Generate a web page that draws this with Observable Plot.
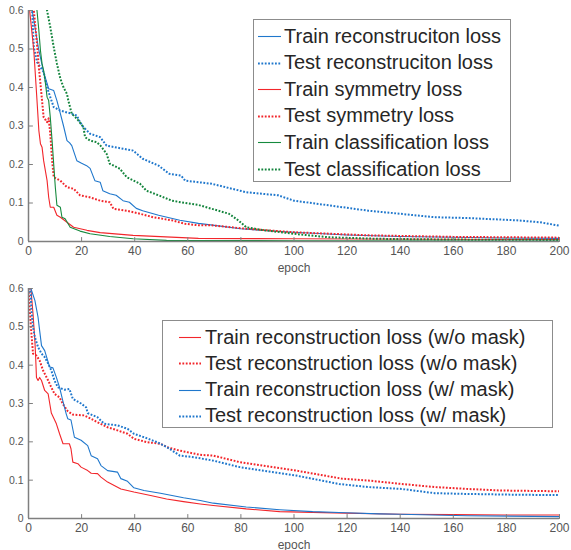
<!DOCTYPE html>
<html><head><meta charset="utf-8">
<script src="https://cdn.jsdelivr.net/npm/d3@7"></script>
<script src="https://cdn.jsdelivr.net/npm/@observablehq/plot@0.6"></script>
<style>
body{margin:0;background:#fff;font-family:"Liberation Sans",Arial,sans-serif;}
#wrap{position:relative;width:571px;height:550px;overflow:hidden;background:#fff}
.fig{position:absolute;left:0}
.legend{position:absolute;background:#fff;border:1px solid #8c8c8c;box-sizing:border-box;font-size:20px;color:#262626;font-family:"Liberation Sans",Arial,sans-serif}
.legend .row{position:absolute;height:26px;display:flex;align-items:center;white-space:nowrap}
.legend svg{display:block}
</style></head><body><div id="wrap"></div>
<script>
// ---------- data ----------
const xTicks = [0,20,40,60,80,100,120,140,160,180,200];
const yTicks = [0,0.1,0.2,0.3,0.4,0.5,0.6];

const topLabels = ["Train reconstruciton loss","Test reconstruciton loss","Train symmetry loss","Test symmetry loss","Train classification loss","Test classification loss"];
const bottomLabels = ["Train reconstruction loss (w/o mask)","Test reconstruction loss (w/o mask)","Train reconstruction loss (w/ mask)","Test reconstruction loss (w/ mask)"];

const topTrainRecon = [[0,0.66],[1.4,0.6],[3.8,0.5],[5.7,0.44],[7.6,0.397],[9.5,0.392],[10.7,0.366],[12,0.332],[13.2,0.3],[14.5,0.262],[15.5,0.256],[16.3,0.249],[18.2,0.21],[20,0.203],[21.9,0.197],[23.2,0.19],[25,0.158],[27,0.154],[28,0.132],[30.6,0.124],[33,0.12],[35.6,0.106],[38,0.102],[40.6,0.086],[43,0.08],[49,0.068],[57,0.055],[64,0.047],[70,0.042],[80,0.033],[90,0.028],[100,0.024],[120,0.017],[140,0.013],[160,0.011],[180,0.009],[200,0.008]];
const topTestRecon = [[0,0.65],[1.4,0.595],[2,0.505],[3.2,0.466],[4.5,0.453],[5.7,0.44],[7,0.4],[8.2,0.375],[9.5,0.349],[12,0.34],[15.7,0.333],[18.2,0.327],[19.4,0.31],[20.7,0.297],[23.2,0.28],[27,0.271],[29.4,0.249],[35.6,0.241],[39.4,0.236],[43,0.215],[49,0.197],[53,0.176],[57.5,0.171],[59,0.158],[64,0.154],[69,0.15],[82,0.128],[94,0.12],[100,0.106],[113,0.094],[128,0.08],[140,0.072],[153,0.063],[165,0.061],[184,0.055],[192.6,0.05],[200,0.041]];
const topTrainSym = [[0,0.65],[0.5,0.595],[2,0.496],[3.2,0.366],[3.9,0.288],[4.5,0.254],[5.1,0.245],[5.7,0.21],[7,0.158],[7.6,0.115],[8.2,0.089],[9.5,0.089],[10.7,0.068],[12,0.063],[14.5,0.05],[17,0.037],[22,0.029],[27,0.023],[39.4,0.016],[64,0.008],[100,0.007],[150,0.006],[200,0.005]];
const topTestSym = [[0,0.65],[2,0.6],[2.6,0.557],[3.2,0.513],[3.9,0.453],[4.5,0.41],[5.1,0.366],[5.7,0.323],[7,0.31],[7.6,0.32],[8.2,0.28],[8.9,0.21],[9.5,0.167],[12,0.158],[14.5,0.141],[17,0.137],[19.4,0.12],[23,0.115],[27,0.106],[30.6,0.102],[32,0.085],[37,0.08],[42,0.072],[47,0.063],[54,0.055],[59,0.046],[64,0.042],[69,0.042],[82,0.033],[100,0.024],[128,0.016],[160,0.012],[200,0.01]];
const topTrainClass = [[0,0.7],[3.2,0.6],[3.9,0.548],[4.5,0.496],[5.1,0.462],[5.7,0.444],[6.4,0.41],[7,0.375],[7.6,0.366],[8.2,0.323],[8.9,0.26],[9.5,0.2],[10.1,0.141],[10.7,0.094],[12,0.089],[12.6,0.063],[13.8,0.059],[15.7,0.037],[19.4,0.027],[23.2,0.02],[30.6,0.013],[39.4,0.007],[52,0.003],[100,0.002],[200,0.001]];
const topTestClass = [[6.5,0.62],[7,0.6],[8.2,0.557],[9.5,0.505],[10.7,0.462],[12,0.423],[13.2,0.4],[14.5,0.383],[15,0.366],[16.3,0.332],[18.2,0.319],[20.7,0.297],[21.3,0.271],[23.2,0.262],[25.7,0.258],[27,0.25],[29.4,0.228],[30.6,0.202],[34.4,0.189],[37,0.167],[42,0.15],[44.4,0.132],[49,0.12],[54,0.106],[59,0.1],[64,0.095],[69,0.085],[75.5,0.072],[79,0.055],[82,0.037],[88,0.03],[100,0.02],[113,0.011],[131.6,0.007],[160,0.005],[200,0.004]];

const botTrainNoMask = [[0,0.68],[0.9,0.6],[1.7,0.534],[2.4,0.464],[2.7,0.42],[3,0.368],[3.6,0.36],[4.2,0.368],[4.9,0.36],[6.1,0.334],[7.4,0.325],[8,0.3],[8.6,0.275],[10.5,0.247],[11.7,0.221],[13,0.195],[15.4,0.195],[16,0.182],[16.7,0.147],[18.6,0.143],[19.8,0.134],[22.3,0.125],[23.6,0.118],[26,0.117],[27.3,0.108],[29.8,0.095],[32.3,0.086],[34.8,0.077],[39.7,0.069],[46,0.06],[52,0.051],[58.4,0.044],[64.7,0.038],[69.6,0.034],[82,0.025],[94.6,0.018],[107,0.016],[119.5,0.014],[140,0.011],[160,0.01],[180,0.009],[200,0.009]];
const botTestNoMask = [[0,0.6],[0.5,0.543],[1.1,0.482],[1.7,0.43],[3,0.425],[4.2,0.412],[5.5,0.386],[7.4,0.36],[8.6,0.342],[9.8,0.325],[11.7,0.316],[13,0.298],[14.8,0.28],[16.7,0.271],[21,0.269],[23.6,0.26],[26,0.251],[29.8,0.238],[33.5,0.23],[37.3,0.221],[39.7,0.208],[44.7,0.199],[49.7,0.195],[52.2,0.186],[57,0.177],[64.7,0.166],[69.6,0.164],[79.6,0.147],[88,0.138],[100.8,0.125],[118,0.104],[128,0.099],[140.7,0.09],[153,0.082],[165.6,0.077],[178,0.073],[200,0.071]];
const botTrainMask = [[0,0.68],[0.9,0.6],[2.4,0.569],[3.6,0.525],[4.2,0.49],[4.9,0.451],[6.1,0.438],[7.4,0.408],[8,0.395],[9.2,0.393],[10.5,0.368],[11.7,0.342],[13,0.305],[14.2,0.273],[14.8,0.26],[16,0.257],[17.3,0.212],[19.8,0.204],[22.3,0.19],[23.6,0.164],[24.8,0.16],[26,0.156],[27.3,0.138],[29.8,0.125],[33.5,0.121],[34.8,0.104],[37.3,0.097],[39.7,0.08],[43.5,0.073],[49.7,0.066],[58.4,0.054],[64.7,0.047],[69.6,0.04],[82,0.03],[94.6,0.023],[107,0.018],[119.5,0.015],[132,0.012],[140,0.011],[165,0.007],[200,0.005]];
const botTestMask = [[0,0.62],[0.9,0.58],[1.1,0.543],[1.7,0.5],[2.4,0.473],[3.6,0.447],[4.9,0.43],[6.1,0.421],[7.4,0.404],[8.6,0.386],[9.8,0.36],[11.1,0.342],[13.6,0.336],[15.4,0.338],[16.7,0.312],[19.8,0.3],[21.7,0.29],[22.3,0.275],[26,0.264],[28.5,0.247],[33.5,0.243],[37.3,0.234],[39.7,0.221],[43.5,0.212],[48.5,0.199],[52.2,0.186],[57,0.164],[62.2,0.16],[64.7,0.157],[69.6,0.151],[79.6,0.134],[88,0.125],[100.8,0.112],[117,0.09],[128,0.082],[140.7,0.077],[153,0.066],[165.6,0.064],[184,0.062],[200,0.061]];

// ---------- styles ----------
const BLUE = "#1f77cc", RED = "#f2262b", GREEN = "#168a3e", GREEN_D = "#13843c";
const DOT = "1.8,1.6";
const topStyles = [
  {data: topTrainRecon, color: BLUE, dotted: false},
  {data: topTestRecon, color: BLUE, dotted: true},
  {data: topTrainSym, color: RED, dotted: false},
  {data: topTestSym, color: RED, dotted: true},
  {data: topTrainClass, color: GREEN, dotted: false},
  {data: topTestClass, color: GREEN_D, dotted: true}
];
const botStyles = [
  {data: botTrainNoMask, color: RED, dotted: false},
  {data: botTestNoMask, color: RED, dotted: true},
  {data: botTrainMask, color: BLUE, dotted: false},
  {data: botTestMask, color: BLUE, dotted: true}
];

const AX = "#7f7f7f";
const tickShape = {draw(context, l) { context.moveTo(0, 0); context.lineTo(0, -l); }};
const yFmt = d => d === 0 ? "0" : d3.format(".1f")(d);

function chart(styles, height, marginBottom) {
  return Plot.plot({
    width: 571, height, marginLeft: 28, marginRight: 12, marginTop: 10, marginBottom,
    style: {fontFamily: "Liberation Sans, Arial, sans-serif", fontSize: "10px", color: "#555", background: "white"},
    x: {domain: [0, 200]},
    y: {domain: [0, 0.6]},
    marks: [
      Plot.axisX({ticks: xTicks, tickSize: 0, tickPadding: 5, label: "epoch", labelAnchor: "center", labelArrow: "none", labelOffset: 30, fontSize: 12}),
      Plot.axisY({ticks: yTicks, tickSize: 0, tickPadding: 5, label: null, tickFormat: yFmt, fontSize: 10.5}),
      ...styles.map(s => Plot.line(s.data, {
        x: d => d[0], y: d => d[1], stroke: s.color,
        strokeWidth: s.dotted ? 2 : 1.1,
        strokeDasharray: s.dotted ? DOT : null,
        strokeLinecap: "butt", clip: true
      })),
      Plot.ruleY([0], {stroke: AX, strokeWidth: 1.5}),
      Plot.ruleX([0], {stroke: AX, strokeWidth: 1.5}),
      Plot.vector(xTicks, {x: d => d, y: 0, length: 4, rotate: 0, anchor: "start", shape: tickShape, stroke: AX, strokeWidth: 1}),
      Plot.vector(yTicks, {x: 0, y: d => d, length: 4, rotate: 90, anchor: "start", shape: tickShape, stroke: AX, strokeWidth: 1})
    ]
  });
}

function legend(labels, styles, box, rowTop, rowStep, sampleX, sampleW, textX) {
  const div = document.createElement("div");
  div.className = "legend";
  Object.assign(div.style, {left: box.left + "px", top: box.top + "px", width: box.width + "px", height: box.height + "px"});
  labels.forEach((lab, i) => {
    const s = styles[i];
    const row = document.createElement("div");
    row.className = "row";
    row.style.left = sampleX + "px";
    row.style.top = (rowTop + i * rowStep - 13) + "px";
    row.innerHTML = `<svg width="${textX - sampleX}" height="26"><line x1="0" x2="${sampleW}" y1="13.5" y2="13.5" stroke="${s.color}" stroke-width="${s.dotted ? 2 : 1.1}" ${s.dotted ? `stroke-dasharray="${DOT}"` : ""}/></svg><span>${lab}</span>`;
    div.appendChild(row);
  });
  return div;
}

const wrap = document.getElementById("wrap");
const f1 = document.createElement("div"); f1.className = "fig"; f1.style.top = "0px";
f1.appendChild(chart(topStyles, 275, 34));
wrap.appendChild(f1);
const f2 = document.createElement("div"); f2.className = "fig"; f2.style.top = "278px";
f2.appendChild(chart(botStyles, 272, 32));
wrap.appendChild(f2);

wrap.appendChild(legend(topLabels, topStyles, {left: 253, top: 19, width: 258, height: 163}, 16, 26.6, 4, 23, 30));
wrap.appendChild(legend(bottomLabels, botStyles, {left: 162, top: 320, width: 391, height: 108}, 16, 26.3, 16, 22, 42));
</script>
</body></html>
